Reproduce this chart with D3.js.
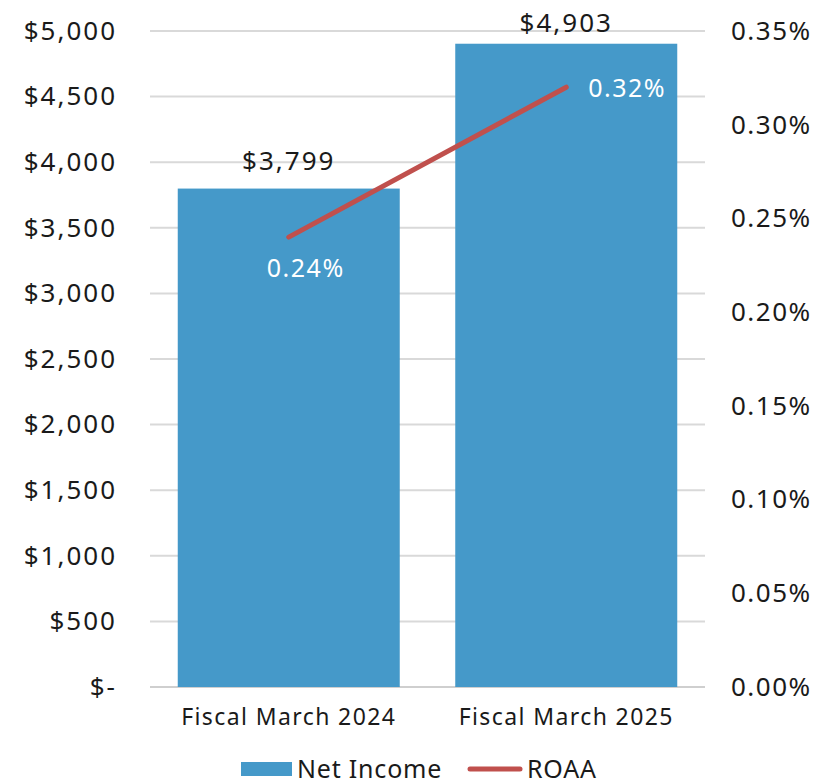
<!DOCTYPE html>
<html>
<head>
<meta charset="utf-8">
<script src="https://cdn.jsdelivr.net/npm/d3@7"></script>
<style>
  body { margin: 0; background: #fff; }
  svg text { font-family: "Noto Sans", "Open Sans", sans-serif; fill: #1a1a1a; }
</style>
</head>
<body>
<div class="chart"></div>
<script>
/* data */
const categories = ["Fiscal March 2024", "Fiscal March 2025"];
const netIncome = [3799, 4903];
const roaa = [0.24, 0.32];
const leftTicks = [0, 500, 1000, 1500, 2000, 2500, 3000, 3500, 4000, 4500, 5000];
const rightTicks = [0, 0.05, 0.10, 0.15, 0.20, 0.25, 0.30, 0.35];

const svg_width = 820;
const svg_height = 784;
const margin = { top: 31, right: 115, bottom: 97, left: 150 };
const chart_width = svg_width - margin.left - margin.right;
const chart_height = svg_height - margin.top - margin.bottom;

const barColor = "#4599c9";
const lineColor = "#c0504d";

const svg = d3.select(".chart").append("svg")
    .attr("width", svg_width)
    .attr("height", svg_height);
const g = svg.append("g").attr("transform", `translate(${margin.left},${margin.top})`);

/* scales */
const xScale = d3.scaleBand().domain(categories).range([0, chart_width]).paddingInner(0.2).paddingOuter(0.1);
const yLeft = d3.scaleLinear().domain([0, 5000]).range([chart_height, 0]);
const yRight = d3.scaleLinear().domain([0, 0.35]).range([chart_height, 0]);

/* gridlines */
g.append("g").selectAll("line").data(leftTicks).join("line")
    .attr("x1", 0).attr("x2", chart_width)
    .attr("y1", d => yLeft(d)).attr("y2", d => yLeft(d))
    .attr("stroke", d => d === 0 ? "#cfcfcf" : "#d9d9d9")
    .attr("stroke-width", 2);

/* left axis */
const leftFmt = d => d === 0 ? "$-" : "$" + d3.format(",")(d);
const leftAxis = g.append("g")
    .attr("transform", "translate(-33,0)")
    .call(d3.axisLeft(yLeft).tickValues(leftTicks).tickFormat(leftFmt).tickSize(0).tickPadding(0));
leftAxis.select(".domain").remove();
leftAxis.selectAll("text").attr("font-size", 26).attr("letter-spacing", 2).attr("fill", "#1a1a1a");

/* right axis */
const rightAxis = g.append("g")
    .attr("transform", `translate(${chart_width + 26},0)`)
    .call(d3.axisRight(yRight).tickValues(rightTicks).tickFormat(d => d.toFixed(2) + "%").tickSize(0).tickPadding(0));
rightAxis.select(".domain").remove();
rightAxis.selectAll("text").attr("font-size", 26).attr("letter-spacing", 1.5).attr("fill", "#1a1a1a");

/* x axis */
const xAxis = g.append("g")
    .attr("transform", `translate(0,${chart_height})`)
    .call(d3.axisBottom(xScale).tickSize(0).tickPadding(22));
xAxis.select(".domain").remove();
xAxis.selectAll("text").attr("font-size", 23).attr("letter-spacing", 1.4).attr("fill", "#1a1a1a");

/* bars */
g.append("g").selectAll("rect").data(netIncome).join("rect")
    .attr("x", (d, i) => xScale(categories[i]))
    .attr("y", d => yLeft(d))
    .attr("width", xScale.bandwidth())
    .attr("height", d => chart_height - yLeft(d))
    .attr("fill", barColor);

/* bar labels */
g.append("g").selectAll("text").data(netIncome).join("text")
    .attr("x", (d, i) => xScale(categories[i]) + xScale.bandwidth() / 2)
    .attr("y", d => Math.max(yLeft(d) - 19, 1))
    .attr("text-anchor", "middle")
    .attr("font-size", 26)
    .attr("letter-spacing", 2)
    .text(d => "$" + d3.format(",")(d));

/* ROAA line */
const lineGen = d3.line()
    .x((d, i) => xScale(categories[i]) + xScale.bandwidth() / 2)
    .y(d => yRight(d));
g.append("path")
    .datum(roaa)
    .attr("d", lineGen)
    .attr("fill", "none")
    .attr("stroke", lineColor)
    .attr("stroke-width", 5)
    .attr("stroke-linecap", "round");

/* line labels */
const cx = i => xScale(categories[i]) + xScale.bandwidth() / 2;
g.append("text")
    .attr("x", cx(0) + 17).attr("y", yRight(roaa[0]) + 40)
    .attr("text-anchor", "middle").attr("font-size", 25).attr("letter-spacing", 1.5)
    .style("fill", "#fff")
    .text(roaa[0].toFixed(2) + "%");
g.append("text")
    .attr("x", cx(1) + 22).attr("y", yRight(roaa[1]) + 10)
    .attr("text-anchor", "start").attr("font-size", 25).attr("letter-spacing", 1.5)
    .style("fill", "#fff")
    .text(roaa[1].toFixed(2) + "%");

/* legend */
const legend = svg.append("g").attr("transform", "translate(0,769)");
legend.append("rect").attr("x", 241).attr("y", -7).attr("width", 51).attr("height", 14).attr("fill", barColor);
legend.append("text").attr("x", 297).attr("y", 9).attr("font-size", 25).attr("letter-spacing", 0.8).text("Net Income");
legend.append("line").attr("x1", 470).attr("x2", 520).attr("y1", 0).attr("y2", 0)
    .attr("stroke", lineColor).attr("stroke-width", 5).attr("stroke-linecap", "round");
legend.append("text").attr("x", 527).attr("y", 9).attr("font-size", 25).attr("letter-spacing", 0.8).text("ROAA");
</script>
</body>
</html>
